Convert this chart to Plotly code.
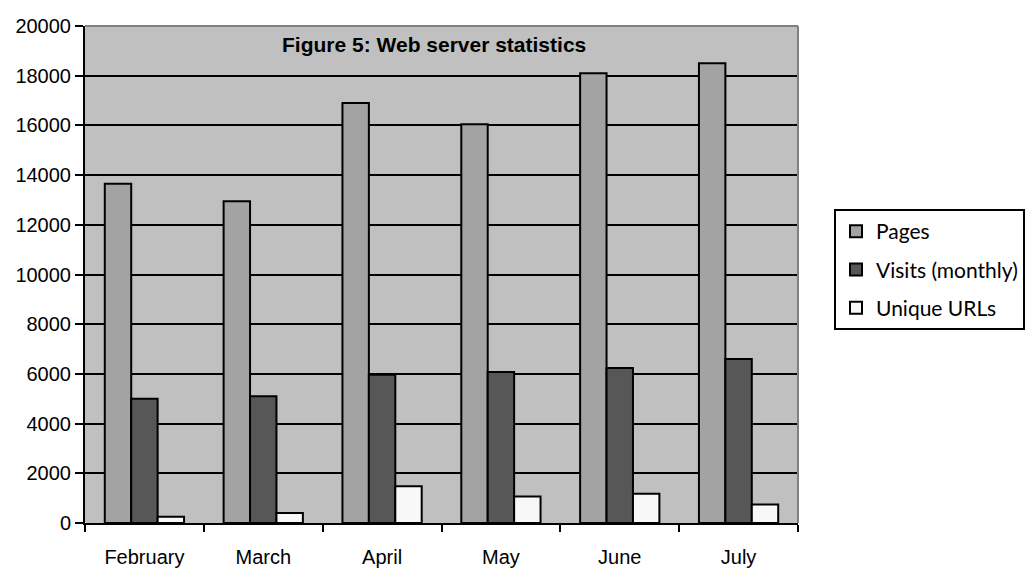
import plotly.graph_objects as go

months = ["February", "March", "April", "May", "June", "July"]
pages = [13650, 12950, 16900, 16050, 18100, 18500]
visits = [5000, 5100, 5970, 6080, 6240, 6600]
unique_urls = [250, 400, 1480, 1070, 1180, 740]
series_names = ["Pages", "Visits (monthly)", "Unique URLs"]
y_ticks = list(range(0, 20001, 2000))
y_tick_labels = [str(v) for v in y_ticks]

colors = ["#a3a3a3", "#575757", "#f8f8f8"]

fig = go.Figure()
for i, (name, vals) in enumerate(zip(series_names, [pages, visits, unique_urls])):
    fig.add_trace(go.Bar(
        x=months, y=vals, name=name, legendgroup=f"g{i}",
        marker=dict(color=colors[i], line=dict(color="black", width=2)),
    ))

fig.update_layout(
    width=1029, height=568,
    margin=dict(l=85, r=231, t=26, b=45, autoexpand=False),
    paper_bgcolor="white",
    plot_bgcolor="#c0c0c0",
    barmode="group",
    bargap=0.333,
    bargroupgap=0,
    font=dict(family="Liberation Sans, Arial, sans-serif", color="black", size=20),
    showlegend=True,
    legend=dict(
        x=(834 - 85) / 713, y=(523 - 209) / 497,
        xanchor="left", yanchor="top",
        bordercolor="black", borderwidth=2,
        bgcolor="white",
        font=dict(family="Lato, Noto Sans, sans-serif", size=21, color="black"),
        traceorder="grouped",
        tracegroupgap=8,
        itemwidth=30,
    ),
    annotations=[dict(
        text="<b>Figure 5: Web server statistics</b>",
        xref="paper", yref="paper",
        x=(434 - 85) / 713, y=(523 - 44) / 497,
        xanchor="center", yanchor="middle",
        showarrow=False,
        font=dict(family="Liberation Sans, Arial, sans-serif", size=21, color="black"),
    )],
    shapes=[
        dict(type="line", xref="paper", yref="paper", x0=0, x1=1, y0=1, y1=1,
             line=dict(color="#808080", width=2), layer="above"),
        dict(type="line", xref="paper", yref="paper", x0=1, x1=1, y0=0, y1=1,
             line=dict(color="#808080", width=2), layer="above"),
    ],
)

fig.update_xaxes(
    showline=True, linecolor="black", linewidth=2,
    ticks="outside", tickson="boundaries", ticklen=7, tickwidth=2, tickcolor="black",
    showgrid=False,
    tickfont=dict(size=20, family="Liberation Sans, Arial, sans-serif"),
    ticklabelstandoff=15,
)
fig.update_yaxes(
    range=[0, 20000], tickvals=y_ticks, ticktext=y_tick_labels,
    showline=True, linecolor="black", linewidth=2,
    ticks="outside", ticklen=8, tickwidth=2, tickcolor="black",
    showgrid=True, gridcolor="black", gridwidth=2,
    zeroline=False,
    tickfont=dict(size=20, family="Liberation Sans, Arial, sans-serif"),
)

fig.write_html("out.html")
